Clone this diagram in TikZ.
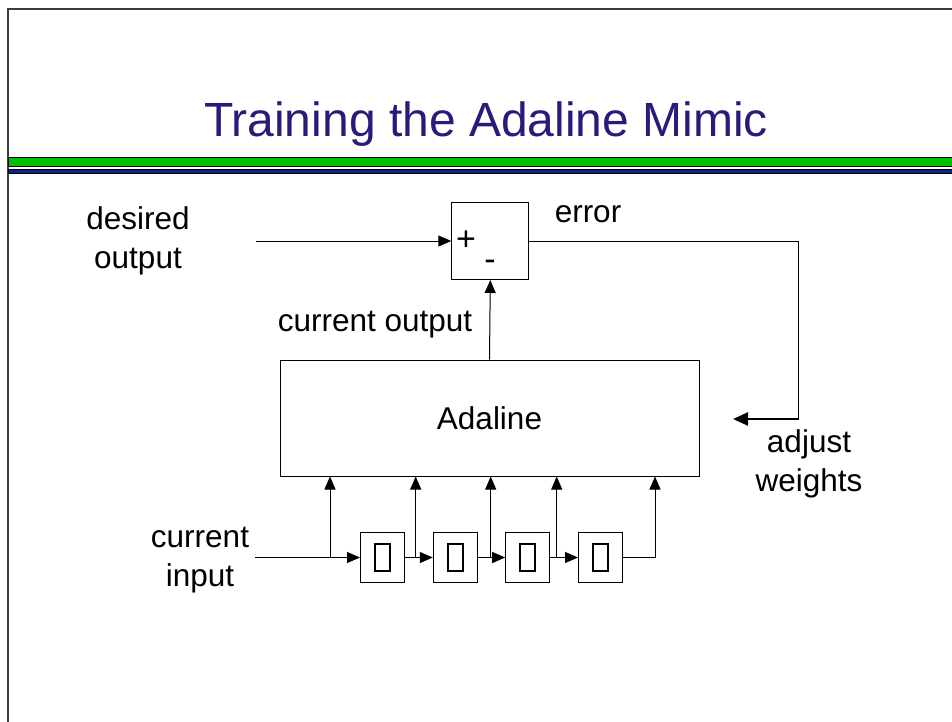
\documentclass[tikz,border=0pt]{standalone}
\usepackage{fontspec}
\setmainfont{Liberation Sans}
\usetikzlibrary{arrows.meta}
\definecolor{titleblue}{RGB}{43,26,122}
\definecolor{bargreen}{RGB}{0,192,0}
\definecolor{barblue}{RGB}{16,32,140}
\definecolor{framegray}{RGB}{60,60,60}
\begin{document}
\begin{tikzpicture}[x=1pt,y=-1pt,
  wire/.style={line width=1pt},
  tip/.style={-{Triangle[length=13pt,width=11pt]}},
  blk/.style={draw, line width=1pt, inner sep=0pt, rectangle},
  delaybox/.style={blk, minimum width=44pt, minimum height=50pt},
  glyphbox/.style={draw, line width=1.6pt, inner sep=0pt, minimum width=15pt, minimum height=27pt},
  lbl/.style={font=\fontsize{31.5}{39}\selectfont, align=center, inner sep=0pt},
  sign/.style={font=\fontsize{34}{38}\selectfont, inner sep=0pt}]
  % canvas
  \fill[white] (0,0) rectangle (952,722);
  \useasboundingbox (0,0) rectangle (952,722);
  % slide frame
  \draw[framegray, line width=1.5pt] (8,722) -- (8,9) -- (952,9);
  % title and rule bars
  \node[titleblue, font=\fontsize{48}{56}\selectfont, inner sep=0pt] (title) at (486,124) {Training the Adaline Mimic};
  \draw[fill=bargreen, line width=0.8pt] (8,157) rectangle (953,166);
  \draw[fill=barblue, line width=0.8pt] (8,169) rectangle (953,173.5);

  % blocks
  \node[blk, minimum width=77pt, minimum height=77pt] (sum) at (490.3,241) {};
  \node[sign] (plus) at (466,241) {+};
  \node[sign] (minus) at (490,265) {-};
  \node[blk, minimum width=419pt, minimum height=116pt] (ada) at (489.5,418) {};
  \node[lbl] (adalbl) at (489.5,418) {Adaline};

  \node[delaybox] (d1) at (382.5,557.5) {};
  \node[delaybox] (d2) at (455.3,557.5) {};
  \node[delaybox] (d3) at (527.7,557.5) {};
  \node[delaybox] (d4) at (600.5,557.5) {};
  \foreach \k in {1,2,3,4} \node[glyphbox] (g\k) at (d\k) {};

  % labels
  \node[lbl] (desired) at (138,241) {desired\\output};
  \node[lbl] (error) at (588,214) {error};
  \node[lbl] (curout) at (375,325) {current output};
  \node[lbl] (curin) at (200,560) {current\\input};
  \node[lbl] (adjust) at (809,464) {adjust\\weights};

  % signal path: desired output into the summing junction
  \coordinate (dstart) at (256,241);
  \draw[wire, tip] (dstart) -- (sum.west);
  % Adaline output into the summing junction
  \draw[wire, tip] (ada.north) -- (sum.south);
  % error fed back to adjust the weights
  \coordinate (ecorner) at (798,241);
  \coordinate (eend) at (733,419);
  \draw[wire] (sum.east) -- (ecorner);
  \draw[line width=1pt] (ecorner) -- (798,419);
  \draw[line width=2.5pt, -{Triangle[length=15pt,width=13pt]}] (799.2,419) -- (eend);

  % tapped delay line
  \coordinate (istart) at (255,557.5);
  \coordinate (t0) at (330,557.5);
  \coordinate (t1) at (415.7,557.5);
  \coordinate (t2) at (490.7,557.5);
  \coordinate (t3) at (556.7,557.5);
  \coordinate (t4) at (655,557.5);
  \draw[wire, tip] (istart) -- (d1.west);
  \draw[wire, tip] (d1.east) -- (d2.west);
  \draw[wire, tip] (d2.east) -- (d3.west);
  \draw[wire, tip] (d3.east) -- (d4.west);
  \draw[wire] (d4.east) -- (t4);
  \foreach \t in {t0,t1,t2,t3,t4}
    \draw[wire, tip] (\t) -- (\t |- ada.south);
\end{tikzpicture}
\end{document}
